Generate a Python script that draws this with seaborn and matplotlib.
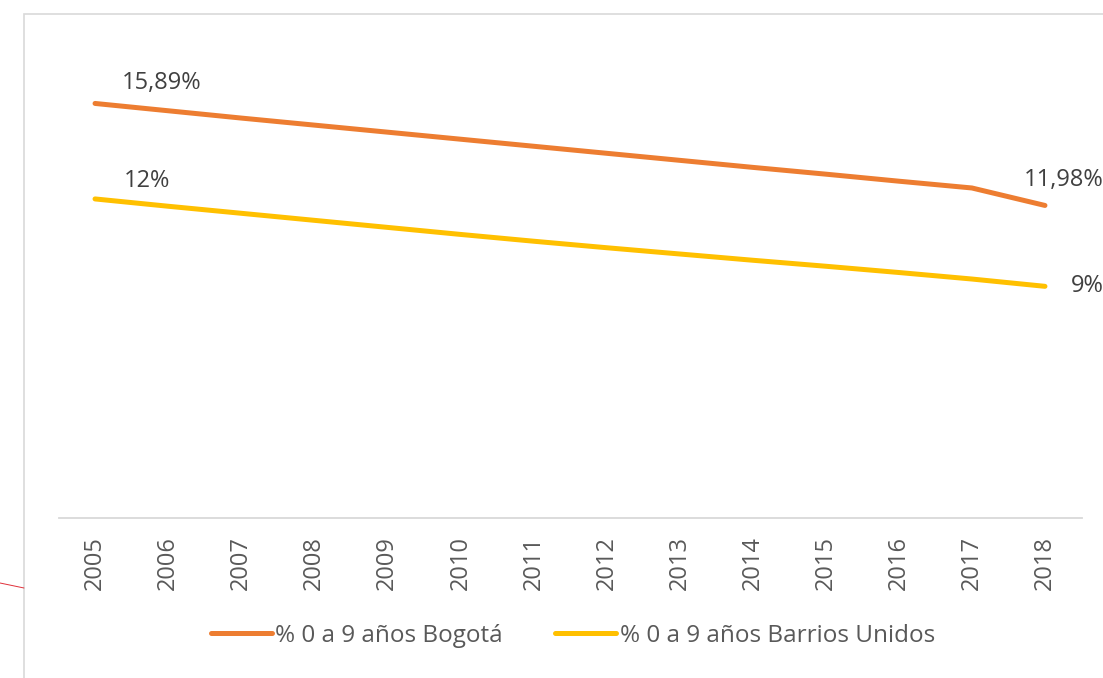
"""
plot.py - % de población de 0 a 9 años, Bogotá vs Barrios Unidos (2005-2018)
"""
import pandas as pd
import matplotlib.pyplot as plt
from matplotlib.lines import Line2D
from matplotlib.patches import Rectangle
import seaborn as sns

sns.set_theme(style="white")
plt.rcParams["font.family"] = ["Open Sans", "DejaVu Sans"]

# ── Data ──────────────────────────────────────────────────────
years = [2005, 2006, 2007, 2008, 2009, 2010, 2011,
         2012, 2013, 2014, 2015, 2016, 2017, 2018]
bogota = [15.89, 15.61, 15.33, 15.06, 14.79, 14.52, 14.25,
          13.98, 13.71, 13.44, 13.18, 12.91, 12.65, 11.98]
barrios_unidos = [12.23, 11.95, 11.68, 11.41, 11.14, 10.87, 10.61,
                  10.36, 10.12, 9.88, 9.65, 9.41, 9.16, 8.88]
series_names = ["% 0 a 9 años Bogotá", "% 0 a 9 años Barrios Unidos"]
series_colors = ["#ED7D31", "#FFC000"]

df = pd.concat([
    pd.DataFrame({"year": years, "pct": bogota, "serie": series_names[0]}),
    pd.DataFrame({"year": years, "pct": barrios_unidos, "serie": series_names[1]}),
])

W, H = 1103, 678
fig = plt.figure(figsize=(W / 100, H / 100), dpi=100)
ax = fig.add_axes([58.5 / W, (H - 518) / H, (1081.5 - 58.5) / W, (518 - 48.4) / H])

# outer chart frame (runs off the right and bottom of the picture)
fig.add_artist(Rectangle((24 / W, -0.1), 1.2, (H - 14) / H + 0.1,
                         transform=fig.transFigure, fill=False,
                         edgecolor="#d9d9d9", linewidth=1.2))
# small red stroke at the left edge
fig.add_artist(Line2D([0, 24 / W], [1 - 583 / H, 1 - 588 / H],
                      transform=fig.transFigure, color="#e0303a", linewidth=0.7))

sns.lineplot(data=df, x="year", y="pct", hue="serie", palette=series_colors,
             linewidth=3.6, ax=ax, legend=False, solid_capstyle="round")

ax.set_xlim(2004.5, 2018.5)
ax.set_ylim(0, 18)
ax.set_xticks(years)
ax.set_xticklabels([str(y) for y in years], rotation=90, fontsize=17, color="#595959")
ax.set_yticks([])
ax.tick_params(axis="x", length=0, pad=13)
ax.set_xlabel("")
ax.set_ylabel("")
for side in ["top", "left", "right"]:
    ax.spines[side].set_visible(False)
ax.spines["bottom"].set_color("#d9d9d9")
ax.spines["bottom"].set_linewidth(1.3)

# data labels at both ends
lbl = dict(fontsize=17, color="#404040", textcoords="offset points",
           va="center", annotation_clip=False)
ax.annotate(f"{bogota[0]:.2f}%".replace(".", ","), (years[0], bogota[0]),
            xytext=(19, 15), ha="left", **lbl)
ax.annotate(f"{barrios_unidos[0]:.0f}%", (years[0], barrios_unidos[0]),
            xytext=(21, 13), ha="left", **lbl)
ax.annotate(f"{bogota[-1]:.2f}%".replace(".", ","), (years[-1], bogota[-1]),
            xytext=(-15, 18), ha="left", **lbl)
ax.annotate(f"{barrios_unidos[-1]:.0f}%", (years[-1], barrios_unidos[-1]),
            xytext=(19, 0), ha="left", **lbl)

handles = [Line2D([], [], color=c, linewidth=3.6, solid_capstyle="round")
           for c in series_colors]
fig.legend(handles, series_names, loc="center", bbox_to_anchor=(573 / W, 1 - 636 / H),
           ncol=2, frameon=False, fontsize=17.5, labelcolor="#595959",
           handlelength=2.5, handletextpad=0.15, columnspacing=2.15)

fig.savefig("out.png", dpi=100)
